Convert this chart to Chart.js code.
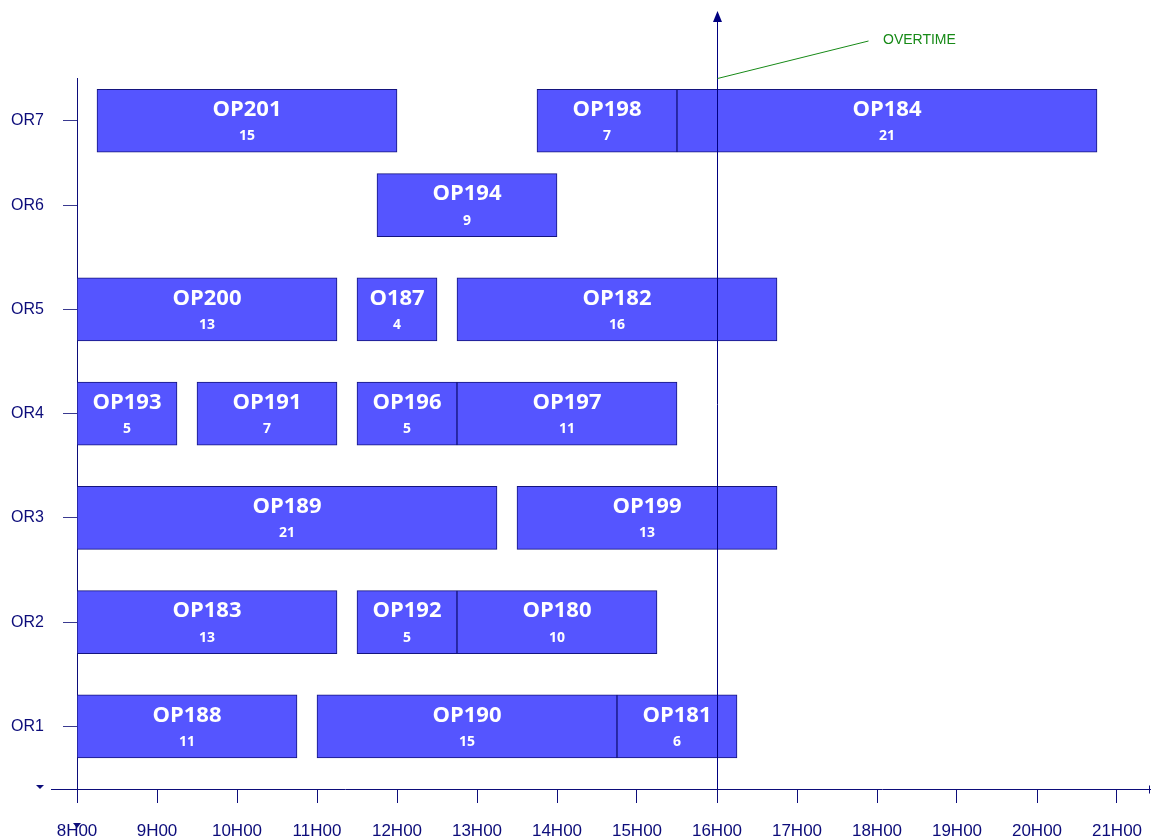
<!DOCTYPE html>
<html><head><meta charset="utf-8">
<script src="https://cdn.jsdelivr.net/npm/chart.js@4.4.0/dist/chart.umd.min.js"></script>
<style>html,body{margin:0;padding:0;background:#fff;overflow:hidden}canvas{display:block}</style>
</head><body><canvas id="c" width="1151" height="840" style="width:1151px;height:840px"></canvas>
<script>
// ---- data ----
const rowLabels = ['OR1', 'OR2', 'OR3', 'OR4', 'OR5', 'OR6', 'OR7'];
const rowPositions = [1, 2, 3, 4, 5, 6, 6.81];
const hourTicks = [8, 9, 10, 11, 12, 13, 14, 15, 16, 17, 18, 19, 20, 21];
const opNames    = ['OP201','OP198','OP184','OP194','OP200','O187','OP182','OP193','OP191','OP196','OP197','OP189','OP199','OP183','OP192','OP180','OP188','OP190','OP181'];
const opRoom     = [6, 6, 6, 5, 4, 4, 4, 3, 3, 3, 3, 2, 2, 1, 1, 1, 0, 0, 0];
const opStart    = [8.25, 13.75, 15.5, 11.75, 8, 11.5, 12.75, 8, 9.5, 11.5, 12.75, 8, 13.5, 8, 11.5, 12.75, 8, 11, 14.75];
const opEnd      = [12, 15.5, 20.75, 14, 11.25, 12.5, 16.75, 9.25, 11.25, 12.75, 15.5, 13.25, 16.75, 11.25, 12.75, 15.25, 10.75, 14.75, 16.25];
const opQuarters = [15, 7, 21, 9, 13, 4, 16, 5, 7, 5, 11, 21, 13, 13, 5, 10, 11, 15, 6];
const overtimeHour = 16;
const overtimeLabel = 'OVERTIME';

const AX = '#0c0c7a';
const FONT = "'Liberation Sans', Arial, sans-serif";

const barLabels = {
  id: 'barLabels',
  afterDatasetsDraw(chart) {
    const ctx = chart.ctx;
    const meta = chart.getDatasetMeta(0);
    ctx.save();
    ctx.fillStyle = '#ffffff';
    ctx.textAlign = 'center';
    ctx.textBaseline = 'middle';
    meta.data.forEach((el, i) => {
      const cx = (el.x + el.base) / 2;
      ctx.font = "bold 22px 'Open Sans', sans-serif";
      ctx.fillText(opNames[i], cx, el.y - 11);
      ctx.font = "bold 14px 'Open Sans', sans-serif";
      ctx.fillText(String(opQuarters[i]), cx, el.y + 15.5);
    });
    ctx.restore();
  }
};

const extras = {
  id: 'extras',
  afterDraw(chart) {
    const ctx = chart.ctx;
    const xs = chart.scales.x;
    const area = chart.chartArea;
    const yb = Math.round(area.bottom) + 0.5;
    ctx.save();
    ctx.strokeStyle = AX;
    ctx.fillStyle = AX;
    ctx.lineWidth = 1;
    // x axis extension to the left
    ctx.beginPath();
    ctx.moveTo(51, yb); ctx.lineTo(area.left, yb);
    ctx.stroke();
    // end mark
    ctx.beginPath();
    ctx.moveTo(area.right - 0.5, yb - 4); ctx.lineTo(area.right - 0.5, yb + 4);
    ctx.stroke();
    // small stray arrowheads
    ctx.beginPath();
    ctx.moveTo(36, 785); ctx.lineTo(44, 785); ctx.lineTo(40, 789); ctx.closePath(); ctx.fill();
    ctx.beginPath();
    ctx.moveTo(73, 823); ctx.lineTo(81, 823); ctx.lineTo(77, 828); ctx.closePath(); ctx.fill();
    // overtime line
    const px = Math.round(xs.getPixelForValue(overtimeHour)) + 0.5;
    ctx.strokeStyle = '#000080';
    ctx.beginPath();
    ctx.moveTo(px, 20); ctx.lineTo(px, area.bottom);
    ctx.stroke();
    ctx.fillStyle = '#000080';
    ctx.beginPath();
    ctx.moveTo(px, 11); ctx.lineTo(px - 4.5, 22); ctx.lineTo(px + 4.5, 22); ctx.closePath(); ctx.fill();
    // leader
    ctx.strokeStyle = '#178a17';
    ctx.beginPath();
    ctx.moveTo(px, 78.5); ctx.lineTo(px + 151, 41);
    ctx.stroke();
    ctx.fillStyle = '#178a17';
    ctx.font = '14px ' + FONT;
    ctx.textAlign = 'left';
    ctx.textBaseline = 'middle';
    ctx.fillText(overtimeLabel, 883, 40);
    ctx.restore();
  }
};

new Chart(document.getElementById('c'), {
  type: 'bar',
  data: {
    datasets: [{
      data: opNames.map((n, i) => ({ x: [opStart[i], opEnd[i]], y: rowPositions[opRoom[i]] })),
      backgroundColor: '#5555ff',
      borderColor: '#14147e',
      borderWidth: 1,
      borderSkipped: false,
      barThickness: 63
    }]
  },
  options: {
    indexAxis: 'y',
    responsive: false,
    animation: false,
    devicePixelRatio: 1,
    layout: { padding: { top: 78, right: 1, left: 0, bottom: 0 } },
    plugins: { legend: { display: false }, tooltip: { enabled: false } },
    scales: {
      x: {
        type: 'linear', min: 8, max: 21.4125, offset: false,
        afterBuildTicks: s => { s.ticks = hourTicks.map(v => ({ value: v })); },
        afterFit: s => { s.height = 51; s.paddingLeft = 0; s.paddingRight = 0; },
        grid: { drawOnChartArea: false, offset: false, tickLength: 14, color: AX, tickColor: AX },
        border: { color: AX, width: 1 },
        ticks: { padding: 18, color: AX, font: { family: FONT, size: 17 }, autoSkip: false, maxRotation: 0,
                 callback: v => v + 'H00' }
      },
      y: {
        type: 'linear', min: 0.4, max: 7.22, offset: false,
        afterBuildTicks: s => { s.ticks = rowPositions.map(v => ({ value: v })); },
        afterFit: s => { s.width = 77; s.paddingTop = 0; s.paddingBottom = 0; },
        grid: { drawOnChartArea: false, offset: false, tickLength: 14, color: AX, tickColor: '#3a3a90' },
        border: { color: AX, width: 1 },
        ticks: { padding: 19, color: AX, font: { family: FONT, size: 16 }, autoSkip: false,
                 callback: v => rowLabels[rowPositions.indexOf(v)] }
      }
    }
  },
  plugins: [barLabels, extras]
});
</script></body></html>
